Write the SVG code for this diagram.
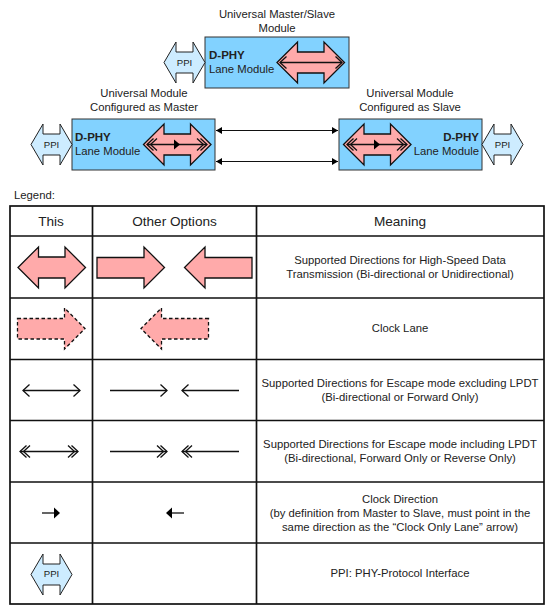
<svg xmlns="http://www.w3.org/2000/svg" width="554" height="612" viewBox="0 0 554 612">
<style>
text{font-family:"Liberation Sans",Arial,sans-serif;font-size:11.3px;fill:#222;text-anchor:middle}
.h{font-size:13.6px}
.b{font-weight:bold;font-size:11.5px}
.p{font-size:9.6px}
.l{text-anchor:start}.e{text-anchor:end}
.mod{fill:#82d2ff;stroke:#333;stroke-width:1}
.ppi{fill:#cdecff;stroke:#222;stroke-width:1}
.hs{fill:#ffaaaa;stroke:#111;stroke-width:1.3;stroke-linejoin:miter}
.ck{fill:#ffaaaa;stroke:#111;stroke-width:1.3;stroke-dasharray:3.5 2.5}
.ln{fill:none;stroke:#111;stroke-width:1.3}
.tb{fill:none;stroke:#111;stroke-width:1.7}
.fh{fill:#000;stroke:none}
</style>
<defs>
<marker id="solid" markerUnits="userSpaceOnUse" markerWidth="10" markerHeight="8" refX="6" refY="3.5" orient="auto-start-reverse"><path d="M0 0L6 3.500L0 7Z" fill="#000"/></marker>
<marker id="open" markerUnits="userSpaceOnUse" markerWidth="10" markerHeight="14" refX="7.500" refY="6.500" orient="auto-start-reverse"><path d="M1 0.500L7.500 6.500L1 12.500" fill="none" stroke="#111" stroke-width="1.3"/></marker>
<marker id="open2" markerUnits="userSpaceOnUse" markerWidth="13" markerHeight="14" refX="11" refY="6.500" orient="auto-start-reverse"><path d="M4.500 0.500L11 6.500L4.500 12.500M1 0.500L7.500 6.500L1 12.500" fill="none" stroke="#111" stroke-width="1.3"/></marker>
<path id="dbl" d="M0 20.500L20.500 0V10H47V0L67.500 20.500L47 41V31H20.500V41Z"/>
<path id="rt" d="M0 10.500H47V0L67.500 20.500L47 41V31H0Z"/>
<path id="lf" d="M67.500 10.500H20.500V0L0 20.500L20.500 41V31H67.500Z"/>
<path id="ppishape" d="M0 20.500L12 0V10H29V0L41 20.500L29 41V31H12V41Z"/>
</defs>

<g id="top-module">
<text x="277" y="18">Universal Master/Slave</text>
<text x="277" y="32">Module</text>
<rect class="mod" x="205" y="37" width="144" height="51"/>
<text class="b l" x="209" y="59">D-PHY</text>
<text class="l" x="209" y="73">Lane Module</text>
<use href="#dbl" class="hs" x="277" y="42"/>
<line class="ln" x1="280" y1="62.500" x2="342" y2="62.500" marker-start="url(#open)" marker-end="url(#open)"/>
<use href="#ppishape" class="ppi" x="164" y="42"/>
<text class="p" x="184.500" y="66">PPI</text>
</g>

<g id="master-module">
<text x="144" y="97">Universal Module</text>
<text x="144" y="111">Configured as Master</text>
<rect class="mod" x="72" y="119" width="143" height="51"/>
<text class="b l" x="75" y="141">D-PHY</text>
<text class="l" x="75" y="155">Lane Module</text>
<use href="#dbl" class="hs" x="143.500" y="124"/>
<line class="ln" x1="147" y1="144.500" x2="207" y2="144.500" stroke-width="1.4" marker-start="url(#open2)" marker-end="url(#open2)"/>
<path class="fh" d="M174 139.500L180 144.500L174 149.500Z"/>
<use href="#ppishape" class="ppi" x="31" y="124"/>
<text class="p" x="51.500" y="148">PPI</text>
</g>

<g id="slave-module">
<text x="410" y="97">Universal Module</text>
<text x="410" y="111">Configured as Slave</text>
<rect class="mod" x="339" y="119" width="143" height="51"/>
<text class="b e" x="479" y="141">D-PHY</text>
<text class="e" x="479" y="155">Lane Module</text>
<use href="#dbl" class="hs" x="343.500" y="124"/>
<line class="ln" x1="347" y1="144.500" x2="407" y2="144.500" stroke-width="1.4" marker-start="url(#open2)" marker-end="url(#open2)"/>
<path class="fh" d="M374 139.500L380 144.500L374 149.500Z"/>
<use href="#ppishape" class="ppi" x="482" y="124"/>
<text class="p" x="502.500" y="148">PPI</text>
</g>

<g id="connectors">
<line x1="216" y1="130.500" x2="338" y2="130.500" stroke="#111" stroke-width="1" marker-start="url(#solid)" marker-end="url(#solid)"/>
<line x1="216" y1="161.500" x2="338" y2="161.500" stroke="#111" stroke-width="1" marker-start="url(#solid)" marker-end="url(#solid)"/>
</g>

<g id="legend">
<text class="l" x="14" y="199">Legend:</text>
<rect class="tb" x="10" y="206" width="534" height="398"/>
<path class="tb" d="M92.500 206V604M256.500 206V604M10 236H544M10 298H544M10 359.500H544M10 420.500H544M10 482H544M10 543H544"/>
<text class="h" x="51" y="226">This</text>
<text class="h" x="174.500" y="226">Other Options</text>
<text class="h" x="400" y="226">Meaning</text>

<use href="#dbl" class="hs" x="18" y="247"/>
<use href="#rt" class="hs" x="97" y="247"/>
<use href="#lf" class="hs" x="184.500" y="247"/>
<text x="400" y="264">Supported Directions for High-Speed Data</text>
<text x="400" y="278">Transmission (Bi-directional or Unidirectional)</text>

<use href="#rt" class="ck" x="17.500" y="308"/>
<use href="#lf" class="ck" x="141" y="308"/>
<text x="400" y="332">Clock Lane</text>

<line class="ln" x1="23" y1="390.500" x2="80" y2="390.500" marker-start="url(#open)" marker-end="url(#open)"/>
<line class="ln" x1="110" y1="390.500" x2="167" y2="390.500" marker-end="url(#open)"/>
<line class="ln" x1="239" y1="390.500" x2="182" y2="390.500" marker-end="url(#open)"/>
<text x="400" y="387">Supported Directions for Escape mode excluding LPDT</text>
<text x="400" y="401">(Bi-directional or Forward Only)</text>

<line class="ln" x1="20" y1="451.500" x2="78" y2="451.500" marker-start="url(#open2)" marker-end="url(#open2)"/>
<line class="ln" x1="110" y1="451.500" x2="167" y2="451.500" marker-end="url(#open2)"/>
<line class="ln" x1="239" y1="451.500" x2="182" y2="451.500" marker-end="url(#open2)"/>
<text x="400" y="448">Supported Directions for Escape mode including LPDT</text>
<text x="400" y="462">(Bi-directional, Forward Only or Reverse Only)</text>

<line class="ln" x1="42" y1="513" x2="56" y2="513" stroke-width="1.6"/>
<path class="fh" d="M54 507.500L60 513L54 518.500Z"/>
<line class="ln" x1="170" y1="513" x2="184" y2="513" stroke-width="1.6"/>
<path class="fh" d="M172 507.500L166 513L172 518.500Z"/>
<text x="400" y="503">Clock Direction</text>
<text x="400" y="517">(by definition from Master to Slave, must point in the</text>
<text x="400" y="531">same direction as the “Clock Only Lane” arrow)</text>

<use href="#ppishape" class="ppi" x="31" y="554"/>
<text class="p" x="51.500" y="577">PPI</text>
<text x="400" y="577">PPI: PHY-Protocol Interface</text>
</g>
</svg>
